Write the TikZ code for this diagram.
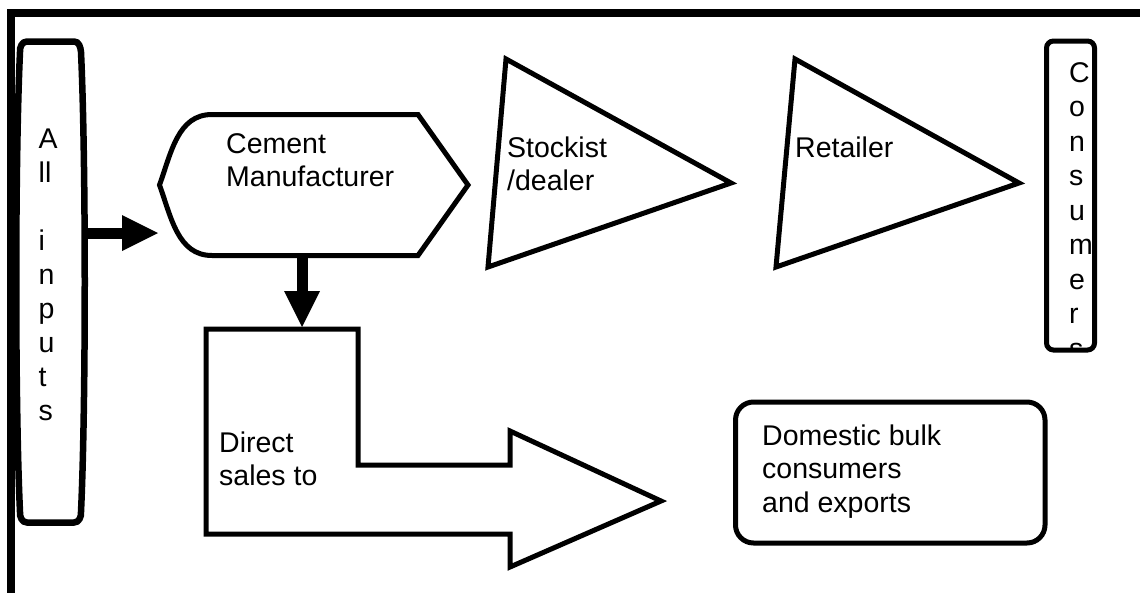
\documentclass[tikz,border=0pt]{standalone}
\usepackage{fontspec}
\setmainfont{Liberation Sans}
\usetikzlibrary{arrows.meta}

\tikzset{
  outline/.style={line width=5pt, line join=miter},
  txt/.style={inner sep=0pt, anchor=base west, align=left, font=\fontsize{28.5}{33.5}\selectfont},
  vtxt/.style={txt, font=\fontsize{28.5}{34}\selectfont},
  blockarrow/.style={line width=11pt, -{Triangle[length=36pt, width=36pt, line width=0pt]}}
}

\begin{document}
\begin{tikzpicture}[x=1pt, y=-1pt]
\useasboundingbox (0,0) rectangle (1140,592);
\draw[line width=7.5pt] (11,600) -- (11,13) -- (1150,13);

% text nodes sit on the baseline of their last line
\draw[line width=6.5pt] (27,41.5) -- (74,41.5) to[out=0,in=95] (81,52)
  .. controls (86,160) and (86,404) .. (81,512) to[out=-85,in=0] (74,522.5)
  -- (27,522.5) to[out=180,in=-95] (20,512)
  .. controls (15,404) and (15,160) .. (20,52) to[out=95,in=180] cycle;
\node[vtxt] (inputs) at (38.5,420) {A\\ll\\[34pt]i\\n\\p\\u\\t\\s};

\draw[outline] (159.5,185) to[out=70,in=180] (212,114.5) -- (418,114.5) -- (468,185)
  -- (418,255.5) -- (212,255.5) to[out=180,in=-70] cycle;
\node[txt] (maker) at (226,186.5) {Cement\\Manufacturer};

\draw[outline] (506,59) -- (731,183) -- (488,267) -- cycle;
\node[txt] (stockist) at (507,190.5) {Stockist\\/dealer};

\draw[outline] (795,59) -- (1019,183) -- (776,267) -- cycle;
\node[txt] (retailer) at (795,157) {Retailer};

\draw[outline, rounded corners=7pt] (1046.5,41) rectangle (1094.5,350);
\begin{scope}
  \clip (1040,44) rectangle (1100,347.5);
  \node[vtxt, font=\fontsize{28.5}{34.5}\selectfont] (consumers) at (1069,358) {C\\o\\n\\s\\u\\m\\e\\r\\s};
\end{scope}

\draw[outline] (206,329) -- (358,329) -- (358,465) -- (510,465) -- (510,431)
  -- (661,501) -- (510,567) -- (510,534) -- (206,534) -- cycle;
\node[txt] (direct) at (219,485.5) {Direct\\sales to};

\draw[outline, rounded corners=18pt] (735.5,402) rectangle (1045,543);
\node[txt] (bulk) at (762,512) {Domestic bulk\\consumers\\and exports};

\coordinate (inputs-e) at (84,233);
\coordinate (maker-w) at (158,233);
\coordinate (maker-s) at (302,257);
\coordinate (direct-n) at (302,327);
\draw[blockarrow] (inputs-e) -- (maker-w);
\draw[blockarrow] (maker-s) -- (direct-n);
\end{tikzpicture}
\end{document}
